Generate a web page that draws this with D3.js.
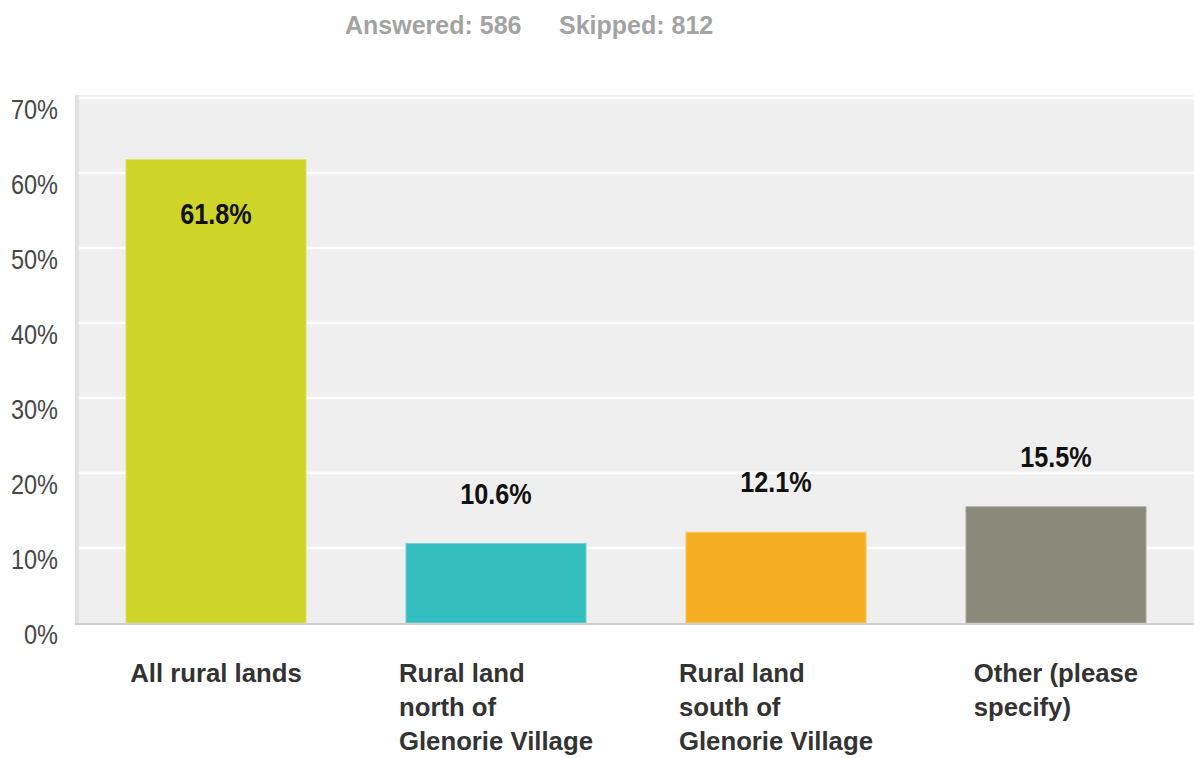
<!DOCTYPE html>
<html>
<head>
<meta charset="utf-8">
<script src="https://cdn.jsdelivr.net/npm/d3@7/dist/d3.min.js"></script>
<style>
  html, body { margin: 0; padding: 0; background: #ffffff; }
  svg { display: block; }
  text { font-family: "Liberation Sans", Arial, Helvetica, sans-serif; }
</style>
</head>
<body>
<svg id="chart" width="1194" height="758"></svg>
<script>
// Survey responses
const answered = 586;
const skipped = 812;

// Answer choices (each entry is the wrapped lines of the label)
const categories = [
  ["All rural lands"],
  ["Rural land", "north of", "Glenorie Village"],
  ["Rural land", "south of", "Glenorie Village"],
  ["Other (please", "specify)"]
];

// Share of respondents choosing each option, in percent
const values = [61.8, 10.6, 12.1, 15.5];

const barColors = ["#cfd428", "#33bdbf", "#f5ae22", "#898a7a"];
const barEdges  = ["#dde36b", "#76d3d4", "#f8c867", "#a9aa9d"];

const yTicks = [0, 10, 20, 30, 40, 50, 60, 70];

const svg = d3.select("#chart");

const plot = { left: 77, right: 1194, top: 95, bottom: 623 };

const x = d3.scaleBand()
  .domain(d3.range(categories.length))
  .range([76, 1196])
  .paddingInner(0.357)
  .paddingOuter(0.1785);

const y = d3.scaleLinear()
  .domain([0, 70])
  .range([623, 98]);

// Header: response counts
const header = svg.append("text")
  .attr("y", 34)
  .attr("font-size", 25)
  .attr("font-weight", "bold")
  .attr("fill", "#a3a3a3");
header.append("tspan").attr("x", 345).text(`Answered: ${answered}`);
header.append("tspan").attr("x", 559).text(`Skipped: ${skipped}`);

// Plot background
svg.append("rect")
  .attr("x", plot.left)
  .attr("y", plot.top)
  .attr("width", plot.right - plot.left)
  .attr("height", plot.bottom - plot.top)
  .attr("fill", "#efefef");

// Light wall on the left edge of the plot
svg.append("rect")
  .attr("x", 75)
  .attr("y", plot.top)
  .attr("width", 4)
  .attr("height", plot.bottom - plot.top + 1)
  .attr("fill", "#e1e1e1");

// Gridlines
svg.append("g")
  .selectAll("line")
  .data(yTicks.filter(d => d > 0))
  .join("line")
  .attr("x1", 79)
  .attr("x2", plot.right)
  .attr("y1", d => y(d))
  .attr("y2", d => y(d))
  .attr("stroke", "#ffffff")
  .attr("stroke-width", 2.5);

// Y axis labels (sit just below each gridline)
const yAxis = d3.axisLeft(y)
  .tickValues(yTicks)
  .tickFormat(d => d + "%")
  .tickSize(0)
  .tickPadding(0);

const yg = svg.append("g")
  .attr("transform", "translate(58,0)")
  .call(yAxis);
yg.select(".domain").remove();
const sx = 0.87;
yg.selectAll(".tick text")
  .attr("font-family", "Liberation Sans, Arial, sans-serif")
  .attr("font-size", 27)
  .attr("fill", "#474747")
  .attr("text-anchor", "end")
  .attr("dy", null)
  .attr("y", 20)
  .attr("x", 0)
  .attr("transform", `scale(${sx},1)`);

// Bars
svg.append("g")
  .selectAll("rect")
  .data(values)
  .join("rect")
  .attr("x", (d, i) => x(i))
  .attr("y", d => y(d))
  .attr("width", x.bandwidth())
  .attr("height", d => y(0) - y(d))
  .attr("fill", (d, i) => barColors[i])
  .attr("stroke", (d, i) => barEdges[i])
  .attr("stroke-width", 1);

// Baseline
svg.append("line")
  .attr("x1", 75)
  .attr("x2", plot.right)
  .attr("y1", y(0) + 1)
  .attr("y2", y(0) + 1)
  .attr("stroke", "#cfcfcf")
  .attr("stroke-width", 2);

// Value labels: inside the tall bar, above the short ones
const vs = 0.84;
svg.append("g")
  .selectAll("text")
  .data(values)
  .join("text")
  .attr("transform", (d, i) => {
    const cx = x(i) + x.bandwidth() / 2;
    const by = d > 40 ? y(d) + 64 : y(d) - 40;
    return `translate(${cx},${by}) scale(${vs},1)`;
  })
  .attr("text-anchor", "middle")
  .attr("font-size", 30)
  .attr("font-weight", "bold")
  .attr("fill", "#111111")
  .text(d => d.toFixed(1) + "%");

// Category labels: left-aligned lines, block centred under each bar
const cs = 0.99;
const catG = svg.append("g");
categories.forEach((lines, i) => {
  const t = catG.append("text")
    .attr("font-size", 26)
    .attr("font-weight", "bold")
    .attr("fill", "#333333");
  lines.forEach((ln, k) => {
    t.append("tspan")
      .attr("x", 0)
      .attr("y", 682 + k * 34)
      .text(ln);
  });
  const w = t.node().getBBox().width * cs;
  const cx = x(i) + x.bandwidth() / 2;
  t.attr("transform", `translate(${cx - w / 2},0) scale(${cs},1)`);
});
</script>
</body>
</html>
